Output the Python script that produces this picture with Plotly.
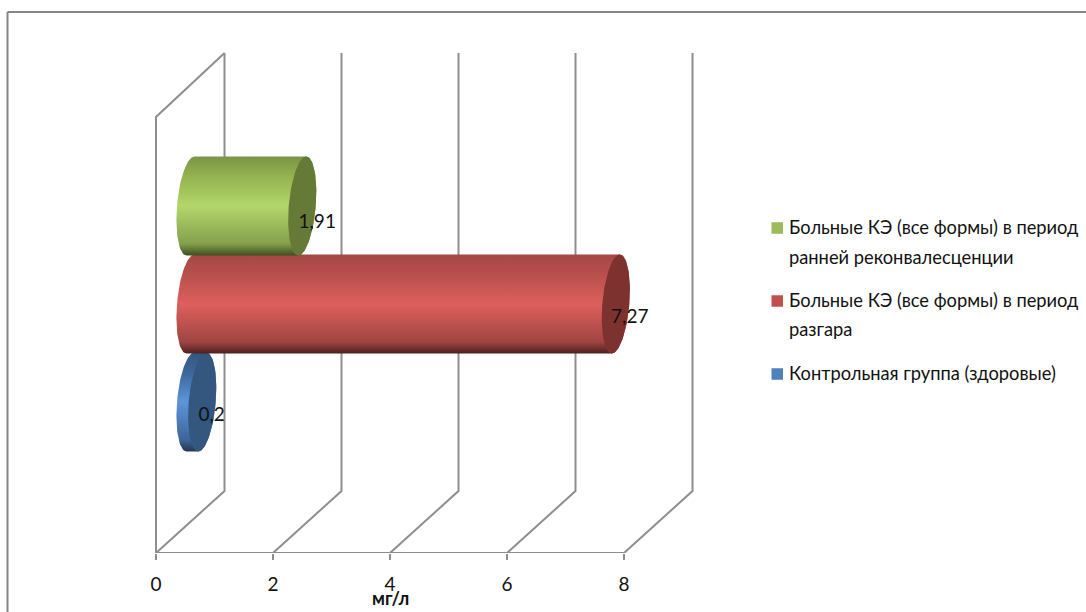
import numpy as np
import plotly.graph_objects as go

# ---- data ----
categories = ["Контрольная группа (здоровые)",
              "Больные КЭ (все формы) в период разгара",
              "Больные КЭ (все формы) в период ранней реконвалесценции"]
values = [0.2, 7.27, 1.91]
value_labels = ["0,2", "7,27", "1,91"]
x_ticks = [0, 2, 4, 6, 8]
x_title = "мг/л"
legend_lines = [["Больные КЭ (все формы) в период", "ранней реконвалесценции"],
                ["Больные КЭ (все формы) в период", "разгара"],
                ["Контрольная группа (здоровые)"]]
legend_colors = ["#9BBB59", "#C0504D", "#4F81BD"]
cap_colors = ["#34577F", "#7E3230", "#667A38"]
grad_colors = [
    ["#21384F", "#3D6699", "#5C95DA", "#3D6699", "#33567F"],
    ["#4E1F1E", "#A04542", "#DE5F5C", "#B84F4C", "#A44845"],
    ["#3F4E22", "#84A04C", "#B3D66A", "#94B250", "#7A9446"],
]

# ---- layout constants (pixels) ----
W, H = 1086, 612
X0, PXU = 156.0, 58.5       # pixel of x=0, pixels per unit
AX_Y = 553.0                # pixel row of the axis
Y0, PYU = 402.0, 98.0       # pixel row of category 0, pixels per category
DX, DY = 68.5, 62.0         # depth of the 3D box
WALL_TOP, LEFT_TOP = 53.0, 117.0
BAR_DX, BAR_HALF, ELL_A, ELL_S = 34.5, 49.5, 13.5, 4.0
GRID = "#8E8E8E"
FONT = "Lato"


def xd(px_off):
    return px_off / PXU


def yd(py):
    return (Y0 - py) / PYU


fig = go.Figure()

# box walls
wx, wy = [0, 0, xd(DX)], [yd(AX_Y), yd(LEFT_TOP), yd(WALL_TOP)]
fig.add_trace(go.Scatter(x=wx, y=wy, mode="lines", line=dict(color=GRID, width=2),
                         hoverinfo="skip", showlegend=False))
for t in x_ticks:
    fig.add_trace(go.Scatter(x=[t, t + xd(DX), t + xd(DX)],
                             y=[yd(AX_Y), yd(AX_Y - DY), yd(WALL_TOP)],
                             mode="lines", line=dict(color=GRID, width=2),
                             hoverinfo="skip", showlegend=False))
fig.add_trace(go.Scatter(x=[x_ticks[0], x_ticks[-1]], y=[yd(AX_Y), yd(AX_Y)], mode="lines",
                         line=dict(color=GRID, width=2), hoverinfo="skip", showlegend=False))


def ellipse(cx_px, cy_px, t):
    return (cx_px + ELL_A * np.cos(t) + ELL_S * np.sin(t),
            cy_px - BAR_HALF * np.sin(t))


# cylinders: drawn front-most last (blue, red, green)
for i, v in enumerate(values):
    cy = Y0 - PYU * i
    start = X0 + BAR_DX
    end = start + v * PXU
    tl = np.linspace(np.pi / 2, 3 * np.pi / 2, 60)
    tr = np.linspace(3 * np.pi / 2, 5 * np.pi / 2, 60)
    xl, yl = ellipse(start, cy, tl)
    xr, yr = ellipse(end, cy, tr)
    bx = (np.r_[xl, xr] - X0) / PXU
    by = (Y0 - np.r_[yl, yr]) / PYU
    stops = [0, 0.12, 0.5, 0.8, 1]
    fig.add_trace(go.Scatter(
        x=bx, y=by, mode="lines", fill="toself", line=dict(width=0),
        fillgradient=dict(type="vertical",
                          colorscale=list(zip(stops, grad_colors[i]))),
        name=categories[i], hoverinfo="skip", showlegend=False))
    tc = np.linspace(0, 2 * np.pi, 120)
    cxp, cyp = ellipse(end, cy, tc)
    fig.add_trace(go.Scatter(
        x=(cxp - X0) / PXU, y=(Y0 - cyp) / PYU, mode="lines", fill="toself",
        line=dict(width=0), fillcolor=cap_colors[i], hoverinfo="skip", showlegend=False))

# data labels
lab_off = [(9.5, 14), (14, 14.5), (15, 17)]
fig.add_trace(go.Scatter(
    x=[v + xd(BAR_DX + o[0]) for v, o in zip(values, lab_off)],
    y=[i - o[1] / PYU for i, o in enumerate(lab_off)],
    mode="text", text=value_labels, textposition="middle center",
    textfont=dict(family=FONT, size=19, color="#111111"),
    hoverinfo="skip", showlegend=False))

shapes = [
    dict(type="line", xref="paper", yref="paper", x0=7.5 / W, x1=7.5 / W,
         y0=1 - 12 / AX_Y, y1=1 - H / AX_Y, line=dict(color="#868686", width=2)),
    dict(type="line", xref="paper", yref="paper", x0=7.5 / W, x1=1,
         y0=1 - 12 / AX_Y, y1=1 - 12 / AX_Y, line=dict(color="#868686", width=2)),
]
annotations = [dict(x=390 / W, y=1 - 598 / AX_Y, xref="paper", yref="paper",
                    yanchor="middle", text="<b>%s</b>" % x_title, showarrow=False,
                    font=dict(family=FONT, size=18, color="#111111"))]

legend_row = [[228, 258], [301, 330], [374]]
for lines, rows, col in zip(legend_lines, legend_row, legend_colors):
    s = 11.5
    shapes.append(dict(type="rect", xref="paper", yref="paper",
                       x0=771.5 / W, x1=(771.5 + s) / W,
                       y0=1 - (rows[0] - s / 2) / AX_Y, y1=1 - (rows[0] + s / 2) / AX_Y,
                       fillcolor=col, line=dict(width=0)))
    for txt, r in zip(lines, rows):
        annotations.append(dict(x=787 / W, y=1 - (r - 1) / AX_Y, xref="paper", yref="paper",
                                xanchor="left", yanchor="middle", text=txt, showarrow=False,
                                font=dict(family=FONT, size=18.3, color="#111111")))

fig.update_layout(
    width=W, height=H, autosize=False,
    margin=dict(l=0, r=0, t=0, b=H - AX_Y, pad=0),
    paper_bgcolor="white", plot_bgcolor="white",
    showlegend=False, shapes=shapes, annotations=annotations,
    xaxis=dict(range=[-X0 / PXU, (W - X0) / PXU], tickmode="array", tickvals=x_ticks,
               ticktext=[str(t) for t in x_ticks], ticks="outside", ticklen=6,
               tickwidth=1.6, tickcolor=GRID, showgrid=False, zeroline=False,
               showline=False, ticklabelstandoff=8,
               tickfont=dict(family=FONT, size=19, color="#111111")),
    yaxis=dict(range=[yd(AX_Y), yd(0)], visible=False),
)

fig.write_html("out.html", config=dict(displayModeBar=False),
               post_script="document.body.style.margin='0';document.documentElement.style.overflow='hidden';")
